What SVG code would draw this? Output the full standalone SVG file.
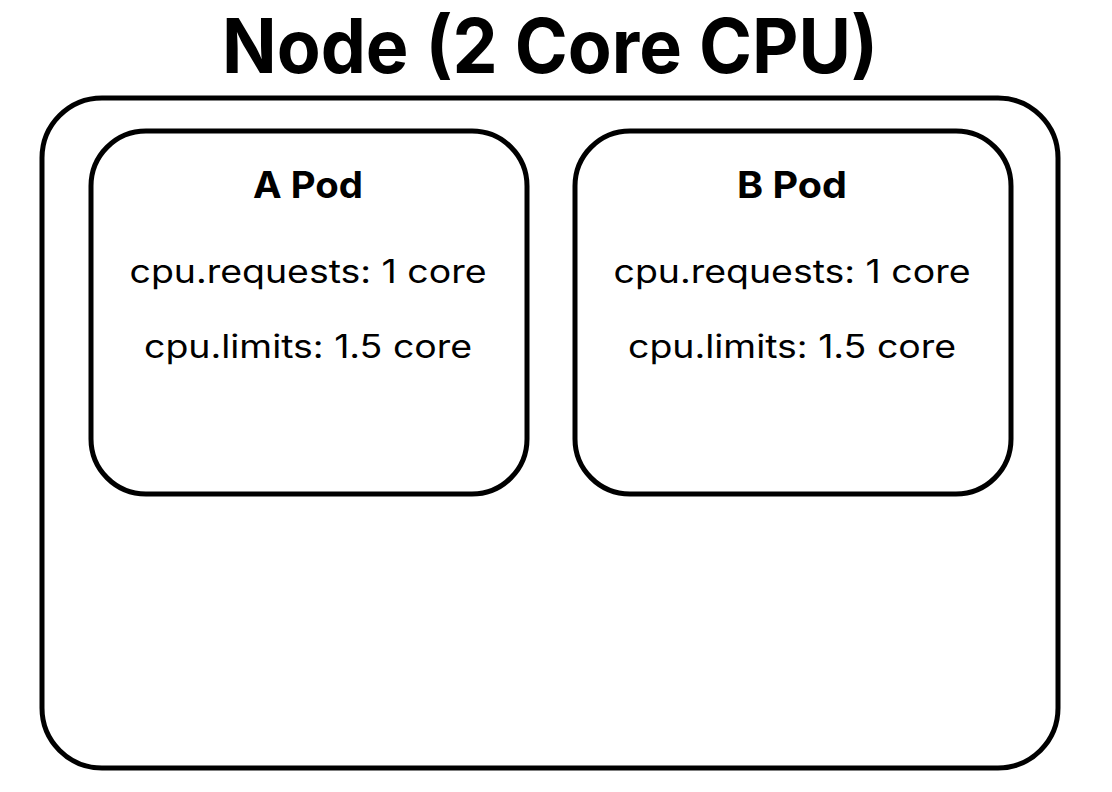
<svg xmlns="http://www.w3.org/2000/svg" width="1112" height="792" viewBox="0 0 1112 792">
<style>
.box{fill:#fff;stroke:#000;stroke-width:5}
.t{font-family:Inter,"Liberation Sans",sans-serif;fill:#000;text-anchor:middle}
.title{font-size:75px;font-weight:700}
.h{font-size:37px;font-weight:700}
.b{font-size:32px;font-weight:400}
</style>
<rect width="1112" height="792" fill="#fff"/>
<text class="t title" x="550" y="73" textLength="656" lengthAdjust="spacingAndGlyphs">Node (2 Core CPU)</text>
<g id="node">
<rect class="box" x="42" y="98" width="1016" height="670" rx="60"/>
</g>
<g id="podA">
<rect class="box" x="91" y="131" width="436" height="363" rx="55"/>
<text class="t h" x="308" y="198" textLength="110" lengthAdjust="spacingAndGlyphs">A Pod</text>
<text class="t b" x="308" y="283" textLength="357" lengthAdjust="spacingAndGlyphs">cpu.requests: 1 core</text>
<text class="t b" x="308" y="358" textLength="328" lengthAdjust="spacingAndGlyphs">cpu.limits: 1.5 core</text>
</g>
<g id="podB">
<rect class="box" x="575" y="131" width="436" height="363" rx="55"/>
<text class="t h" x="792" y="198" textLength="110" lengthAdjust="spacingAndGlyphs">B Pod</text>
<text class="t b" x="792" y="283" textLength="357" lengthAdjust="spacingAndGlyphs">cpu.requests: 1 core</text>
<text class="t b" x="792" y="358" textLength="328" lengthAdjust="spacingAndGlyphs">cpu.limits: 1.5 core</text>
</g>
<g id="connectors"/>
</svg>
